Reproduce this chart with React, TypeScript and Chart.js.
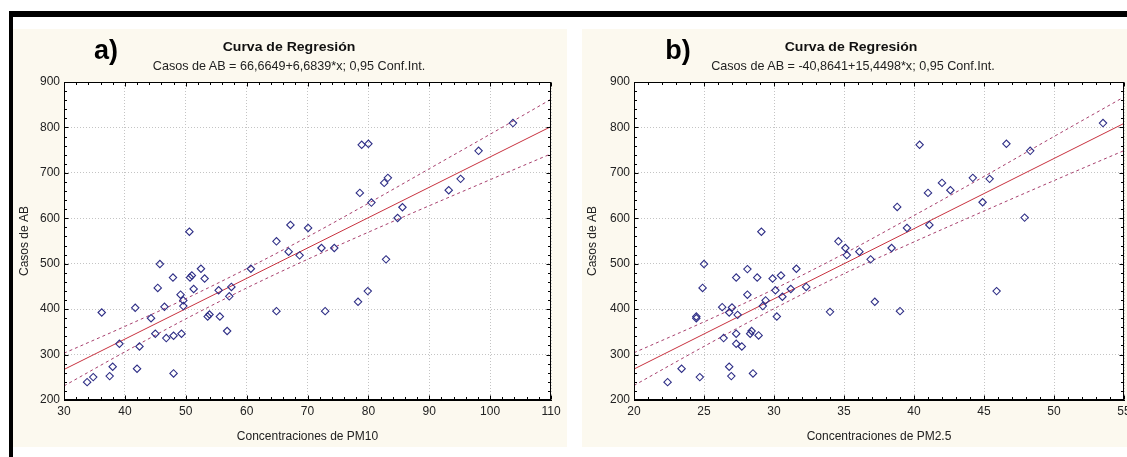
import React, { useEffect, useRef } from 'react';
import { Chart, registerables } from 'chart.js';

Chart.register(...registerables);

// ---------- Panel a) PM10 ----------
const pm10 = [33.8, 34.8, 36.2, 37.5, 38.0, 39.1, 41.7, 42.0, 42.4, 44.3, 45.0, 45.4, 45.75, 46.5, 46.8, 47.9, 48.0, 48.0, 49.15, 49.3, 49.6, 49.6, 50.6, 50.7, 51.0, 51.3, 52.5, 53.1, 53.6, 53.9, 55.4, 55.6, 56.8, 57.15, 57.5, 60.7, 64.9, 64.9, 66.9, 67.2, 68.7, 70.1, 72.3, 72.9, 74.4, 78.3, 78.6, 78.9, 79.9, 80.0, 80.5, 82.6, 82.9, 83.2, 84.8, 85.6, 93.2, 95.15, 98.1, 103.75];
const casosA = [239.3, 250.4, 392.6, 252.6, 273.3, 323.7, 403, 268.9, 317.8, 380, 345.9, 446.7, 499.3, 405.2, 336.3, 469.6, 341.5, 258.5, 431.9, 345.9, 419.3, 406.7, 570.4, 469.6, 474.1, 444.4, 488.9, 467.4, 383.7, 388.2, 441.5, 383.7, 351.9, 428.2, 448.9, 488.9, 549.3, 395.6, 526.5, 585.3, 518.4, 578.7, 534.6, 395.6, 534.6, 416.2, 655.9, 761.8, 439.7, 764, 634.6, 677.9, 509.6, 689, 600.7, 624.3, 661.8, 686.8, 748.5, 809.6];
const fitXA = [30, 110];
const fitYA = [267.2, 801.9];
const bandXA = [30, 40, 50, 60, 70, 80, 90, 100, 110];
const upperA = [303, 362, 423, 489, 559, 633, 709, 785, 862];
const lowerA = [231, 306, 378.5, 446.5, 509.6, 569.4, 627.6, 684.9, 741.9];
const xTicksA = [30, 40, 50, 60, 70, 80, 90, 100, 110];

// ---------- Panel b) PM2.5 ----------
const pm25 = [22.4, 23.4, 24.45, 24.45, 24.7, 25.0, 24.9, 26.3, 26.4, 26.8, 26.8, 26.95, 27.0, 27.3, 27.3, 27.3, 27.4, 27.7, 28.1, 28.1, 28.3, 28.4, 28.5, 28.8, 28.9, 29.1, 29.2, 29.4, 29.9, 30.1, 30.2, 30.5, 30.6, 31.2, 31.6, 32.3, 34.0, 34.6, 35.1, 35.2, 36.1, 36.9, 37.2, 38.4, 38.8, 39.0, 39.5, 40.4, 41.0, 41.1, 42.0, 42.6, 44.2, 44.9, 45.4, 45.9, 46.6, 47.9, 48.3, 53.5];
const casosB = [239.3, 268.9, 383.7, 380, 250.4, 499.3, 446.7, 404.4, 336.3, 392.6, 273.3, 252.6, 403.7, 469.6, 345.9, 323.7, 387.4, 317.8, 431.9, 488.1, 345.9, 351.9, 258.5, 469.6, 342.2, 570.4, 406.7, 419.3, 467.4, 441.5, 383.7, 474.1, 427.4, 444.4, 488.9, 448.9, 394, 549.3, 534.6, 519.1, 526.5, 509.6, 416.2, 534.6, 625, 395.6, 578.7, 761.8, 655.9, 585.3, 677.9, 661.8, 689, 635.3, 686.8, 439.7, 764, 601.5, 748.5, 809.6];
const fitXB = [20, 55];
const fitYB = [268.1, 808.9];
const bandXB = [20, 25, 30, 35, 40, 45, 50, 55];
const upperB = [304, 372, 444, 522, 606, 692, 780, 867];
const lowerB = [232, 318, 401, 478, 548, 616, 683, 749];
const xTicksB = [20, 25, 30, 35, 40, 45, 50, 55];

const yTicks = [200, 300, 400, 500, 600, 700, 800, 900];

const FONT = "'Liberation Sans', Arial, Helvetica, sans-serif";
const CREAM = '#fcf9ef';
const NAVY = '#2e2e86';
const RED = '#c8323f';
const DASHC = '#a8406e';
const TXT = '#222';

const zip = (xs: number[], ys: number[]) => xs.map((x, i) => ({ x, y: ys[i] }));

const framePlugin = {
  id: 'frameTicks',
  beforeDraw(chart: any) {
    const { ctx, chartArea: a } = chart;
    ctx.save();
    ctx.fillStyle = '#ffffff';
    ctx.fillRect(a.left, a.top, a.right - a.left, a.bottom - a.top);
    ctx.restore();
  },
  afterDraw(chart: any) {
    const { ctx, chartArea: a, scales } = chart;
    ctx.save();
    ctx.strokeStyle = '#000';
    ctx.lineWidth = 1;
    const L = Math.round(a.left) + 0.5, R = Math.round(a.right) - 0.5;
    const T = Math.round(a.top) + 0.5, B = Math.round(a.bottom) - 0.5;
    ctx.strokeRect(L, T, R - L, B - T);
    ctx.beginPath();
    const xs = scales.x, ys = scales.y;
    const xStep = (xs.options.ticks.stepSize as number) / 5;
    for (let v = xs.min, i = 0; v <= xs.max + 1e-9; v += xStep, i++) {
      const p = Math.round(xs.getPixelForValue(v)) + 0.5;
      const len = i % 5 === 0 ? 4 : 2.5;
      ctx.moveTo(p, B); ctx.lineTo(p, B - len);
      ctx.moveTo(p, T); ctx.lineTo(p, T + len);
    }
    const yStep = (ys.options.ticks.stepSize as number) / 5;
    for (let v = ys.min, i = 0; v <= ys.max + 1e-9; v += yStep, i++) {
      const p = Math.round(ys.getPixelForValue(v)) + 0.5;
      const len = i % 5 === 0 ? 4 : 2.5;
      ctx.moveTo(L, p); ctx.lineTo(L + len, p);
      ctx.moveTo(R, p); ctx.lineTo(R - len, p);
    }
    ctx.stroke();
    ctx.restore();
  },
};

type PanelProps = {
  left: number;
  width: number;
  xs: number[];
  ys: number[];
  fitX: number[];
  fitY: number[];
  bandX: number[];
  upper: number[];
  lower: number[];
  xTicks: number[];
  xTitle: string;
  yAxisWidth: number;
  padRight: number;
};

function Panel(p: PanelProps) {
  const ref = useRef<HTMLCanvasElement>(null);
  useEffect(() => {
    const lineCommon = { pointRadius: 0, fill: false, borderWidth: 1 };
    const chart = new Chart(ref.current as HTMLCanvasElement, {
      type: 'scatter',
      data: {
        datasets: [
          {
            type: 'scatter',
            data: zip(p.xs, p.ys),
            pointStyle: 'rectRot',
            pointRadius: 3.7,
            borderColor: NAVY,
            backgroundColor: 'rgba(0,0,0,0)',
            borderWidth: 1.1,
            order: 0,
          } as any,
          { type: 'line', data: zip(p.fitX, p.fitY), borderColor: RED, ...lineCommon, order: 1 } as any,
          { type: 'line', data: zip(p.bandX, p.upper), borderColor: DASHC, borderDash: [3, 3], cubicInterpolationMode: 'monotone', ...lineCommon, order: 2 } as any,
          { type: 'line', data: zip(p.bandX, p.lower), borderColor: DASHC, borderDash: [3, 3], cubicInterpolationMode: 'monotone', ...lineCommon, order: 3 } as any,
        ],
      },
      options: {
        responsive: false,
        animation: false,
        devicePixelRatio: 1,
        layout: { padding: { left: 0, top: 53, right: p.padRight, bottom: 0 } },
        plugins: { legend: { display: false }, tooltip: { enabled: false } },
        scales: {
          x: {
            type: 'linear',
            position: 'bottom',
            min: p.xTicks[0],
            max: p.xTicks[p.xTicks.length - 1],
            ticks: { stepSize: p.xTicks[1] - p.xTicks[0], padding: 4, color: TXT, font: { family: FONT, size: 12 }, maxRotation: 0, autoSkip: false },
            grid: { color: '#c4c4c4', lineWidth: 1, drawTicks: false },
            border: { display: true, color: '#000', dash: [1, 2] },
            title: { display: true, text: p.xTitle, color: TXT, font: { family: FONT, size: 12 }, padding: { top: 0, bottom: 3 } },
            afterFit: (s: any) => { s.height = 47; },
          },
          y: {
            type: 'linear',
            min: yTicks[0],
            max: yTicks[yTicks.length - 1],
            ticks: { stepSize: yTicks[1] - yTicks[0], padding: 4, color: TXT, font: { family: FONT, size: 12 } },
            grid: { color: '#c4c4c4', lineWidth: 1, drawTicks: false },
            border: { display: true, color: '#000', dash: [1, 2] },
            title: { display: true, text: 'Casos de AB', color: TXT, font: { family: FONT, size: 12 }, padding: { top: 3, bottom: 0 } },
            afterFit: (s: any) => { s.width = p.yAxisWidth; },
          },
        },
      } as any,
      plugins: [framePlugin as any],
    });
    return () => chart.destroy();
  }, []);
  return (
    <canvas
      ref={ref}
      width={p.width}
      height={418}
      style={{ position: 'absolute', left: p.left, top: 29, width: p.width, height: 418 }}
    />
  );
}

const centered = (x: number, y: number, extra: React.CSSProperties, sx = 1): React.CSSProperties => ({
  position: 'absolute',
  left: x,
  top: y,
  transform: `translate(-50%, -50%) scaleX(${sx})`,
  whiteSpace: 'nowrap',
  lineHeight: 1,
  fontFamily: FONT,
  ...extra,
});

export default function App() {
  return (
    <div style={{ position: 'fixed', left: 0, top: 0, width: 1127, height: 457, overflow: 'hidden', background: '#fff' }}>
      <div style={{ position: 'absolute', left: 9, top: 11, width: 1118, height: 6, background: '#000' }} />
      <div style={{ position: 'absolute', left: 9, top: 11, width: 4, height: 446, background: '#000' }} />
      <div style={{ position: 'absolute', left: 13, top: 29, width: 554, height: 418, background: CREAM }} />
      <div style={{ position: 'absolute', left: 582, top: 29, width: 560, height: 418, background: CREAM }} />

      <Panel left={14} width={553} xs={pm10} ys={casosA} fitX={fitXA} fitY={fitYA} bandX={bandXA} upper={upperA} lower={lowerA}
        xTicks={xTicksA} xTitle="Concentraciones de PM10" yAxisWidth={50} padRight={16} />
      <Panel left={582} width={560} xs={pm25} ys={casosB} fitX={fitXB} fitY={fitYB} bandX={bandXB} upper={upperB} lower={lowerB}
        xTicks={xTicksB} xTitle="Concentraciones de PM2.5" yAxisWidth={52} padRight={18} />

      <div style={centered(106, 50, { fontSize: 27, fontWeight: 'bold', color: '#000' })}>a)</div>
      <div style={centered(289, 46, { fontSize: 13, fontWeight: 'bold', color: '#111' }, 1.08)}>Curva de Regresión</div>
      <div style={centered(289, 66, { fontSize: 12.6, color: TXT })}>Casos de AB = 66,6649+6,6839*x; 0,95 Conf.Int.</div>

      <div style={centered(678, 50, { fontSize: 27, fontWeight: 'bold', color: '#000' })}>b)</div>
      <div style={centered(851, 46, { fontSize: 13, fontWeight: 'bold', color: '#111' }, 1.08)}>Curva de Regresión</div>
      <div style={centered(853, 66, { fontSize: 12.6, color: TXT })}>Casos de AB = -40,8641+15,4498*x; 0,95 Conf.Int.</div>
    </div>
  );
}
